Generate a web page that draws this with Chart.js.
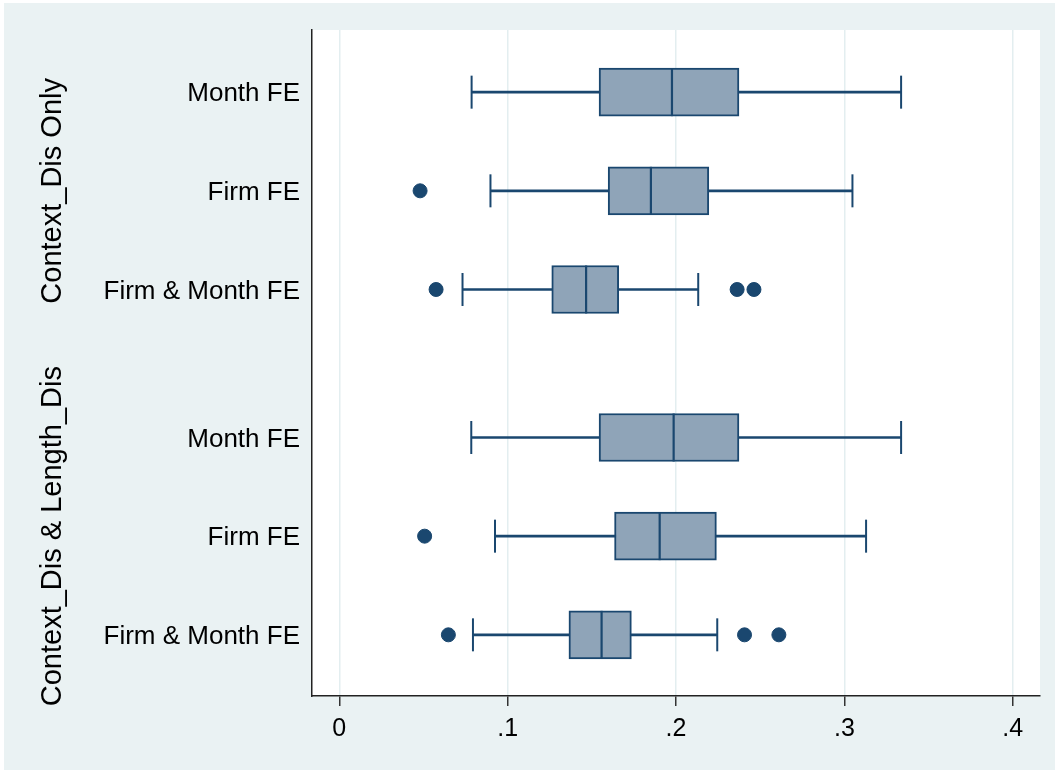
<!DOCTYPE html>
<html>
<head>
<meta charset="utf-8">
<script src="https://cdn.jsdelivr.net/npm/chart.js@4"></script>
<style>
  html, body { margin: 0; padding: 0; background: #ffffff; }
  #wrap { width: 1055px; height: 771px; }
</style>
</head>
<body>
<div id="wrap"><canvas id="chartBox" width="1055" height="771"></canvas></div>
<script>
// rows (top to bottom), y positions leave a 1.5-row gap between the two groups
const rowLabels = ['Month FE', 'Firm FE', 'Firm & Month FE', 'Month FE', 'Firm FE', 'Firm & Month FE'];
const rowPos    = [0, 1, 2, 3.5, 4.5, 5.5];
const groupLabels = ['Context_Dis Only', 'Context_Dis & Length_Dis'];
const groupPos    = [1, 4.5];

// box plot stats
const whiskLow  = [0.0786, 0.0898, 0.0732, 0.0784, 0.0925, 0.0794];
const q1        = [0.1543, 0.1597, 0.1262, 0.1543, 0.1635, 0.1364];
const median    = [0.1976, 0.1851, 0.1466, 0.1986, 0.1903, 0.1558];
const q3        = [0.2374, 0.2195, 0.1660, 0.2374, 0.2240, 0.1735];
const whiskHigh = [0.3337, 0.3048, 0.2132, 0.3337, 0.3129, 0.2245];

// outside values: row index + value
const outRow = [1, 2, 2, 2, 4, 5, 5, 5];
const outVal = [0.048, 0.0575, 0.2363, 0.2463, 0.0507, 0.0648, 0.2407, 0.2611];

const xTicks = [0, 0.1, 0.2, 0.3, 0.4];

const NAVY = '#1a476f';
const BOXFILL = '#8fa4b8';
const FONT = "'Liberation Sans', Arial, sans-serif";

// backgrounds: light outer region (thin white margin), white plot region
const bgPlugin = {
  id: 'bg',
  beforeDraw(chart){
    const {ctx, chartArea: a} = chart;
    ctx.save();
    ctx.fillStyle = '#ffffff';
    ctx.fillRect(0, 0, chart.width, chart.height);
    ctx.fillStyle = '#eaf2f3';
    ctx.fillRect(4, 3, chart.width - 4, chart.height - 4);
    ctx.fillStyle = '#ffffff';
    ctx.fillRect(a.left, a.top, a.right - a.left, a.bottom - a.top);
    ctx.restore();
  }
};

// rotated group titles on the far left
const groupTitles = {
  id: 'groupTitles',
  afterDraw(chart){
    const {ctx} = chart;
    const y = chart.scales.y;
    ctx.save();
    ctx.fillStyle = '#000';
    ctx.font = '29px ' + FONT;
    ctx.textAlign = 'center';
    ctx.textBaseline = 'middle';
    groupLabels.forEach((t, i) => {
      ctx.save();
      ctx.translate(53, y.getPixelForValue(groupPos[i]));
      ctx.rotate(-Math.PI / 2);
      ctx.fillText(t, 0, 0);
      ctx.restore();
    });
    ctx.restore();
  }
};

const whiskerData = rowPos.map((p, i) => ({ y: p, x: [whiskLow[i], whiskHigh[i]] }));
const boxData     = rowPos.map((p, i) => ({ y: p, x: [q1[i], q3[i]] }));
const medianData  = rowPos.map((p, i) => ({ x: median[i], y: p }));
const capData     = [
  ...rowPos.map((p, i) => ({ x: whiskLow[i], y: p })),
  ...rowPos.map((p, i) => ({ x: whiskHigh[i], y: p }))
];
const outData = outRow.map((r, i) => ({ x: outVal[i], y: rowPos[r] }));

new Chart(document.getElementById('chartBox'), {
  type: 'bar',
  data: {
    datasets: [
      {
        label: 'whisker', indexAxis: 'y', data: whiskerData, order: 5,
        backgroundColor: NAVY, borderWidth: 0, barThickness: 2, grouped: false
      },
      {
        label: 'box', indexAxis: 'y', data: boxData, order: 3,
        backgroundColor: BOXFILL, borderColor: NAVY, borderWidth: 2,
        borderSkipped: false, barThickness: 48, grouped: false
      },
      {
        type: 'scatter', label: 'cap', data: capData, order: 4,
        pointStyle: 'line', pointRotation: 90, pointRadius: 16.5,
        pointBorderWidth: 2, pointBorderColor: NAVY, pointBackgroundColor: NAVY
      },
      {
        type: 'scatter', label: 'median', data: medianData, order: 2,
        pointStyle: 'line', pointRotation: 90, pointRadius: 24,
        pointBorderWidth: 2.2, pointBorderColor: NAVY, pointBackgroundColor: NAVY
      },
      {
        type: 'scatter', label: 'outside', data: outData, order: 1,
        pointStyle: 'circle', pointRadius: 7, pointBorderWidth: 1,
        pointBorderColor: NAVY, pointBackgroundColor: NAVY
      }
    ]
  },
  options: {
    responsive: false,
    animation: false,
    events: [],
    layout: { autoPadding: false, padding: { left: 0, top: 30, right: 15, bottom: 0 } },
    plugins: { legend: { display: false }, tooltip: { enabled: false } },
    scales: {
      x: {
        type: 'linear', position: 'bottom',
        min: -0.0162, max: 0.4162, offset: false,
        afterBuildTicks: s => { s.ticks = xTicks.map(v => ({ value: v })); },
        afterFit: s => { s.height = 75; s.paddingLeft = 0; s.paddingRight = 0; },
        grid: { color: '#e3eef0', lineWidth: 1.5, tickColor: '#333', tickLength: 10, tickWidth: 1.5, offset: false },
        border: { display: true, color: '#222', width: 1.5 },
        ticks: {
          color: '#000', padding: 8, maxRotation: 0,
          font: { family: FONT, size: 25 },
          callback: v => v === 0 ? '0' : String(v).replace(/^0/, '')
        }
      },
      y: {
        type: 'linear', position: 'left', reverse: true,
        min: -0.63, max: 6.12, offset: false,
        afterBuildTicks: s => { s.ticks = rowPos.map(v => ({ value: v })); },
        afterFit: s => { s.width = 312; s.paddingTop = 0; s.paddingBottom = 0; },
        grid: { display: false, drawTicks: false, offset: false },
        border: { display: true, color: '#222', width: 1.5 },
        ticks: {
          color: '#000', padding: 12, autoSkip: false, labelOffset: 2,
          font: { family: FONT, size: 26 },
          callback: (v, i) => rowLabels[i]
        }
      }
    }
  },
  plugins: [bgPlugin, groupTitles]
});
</script>
</body>
</html>
